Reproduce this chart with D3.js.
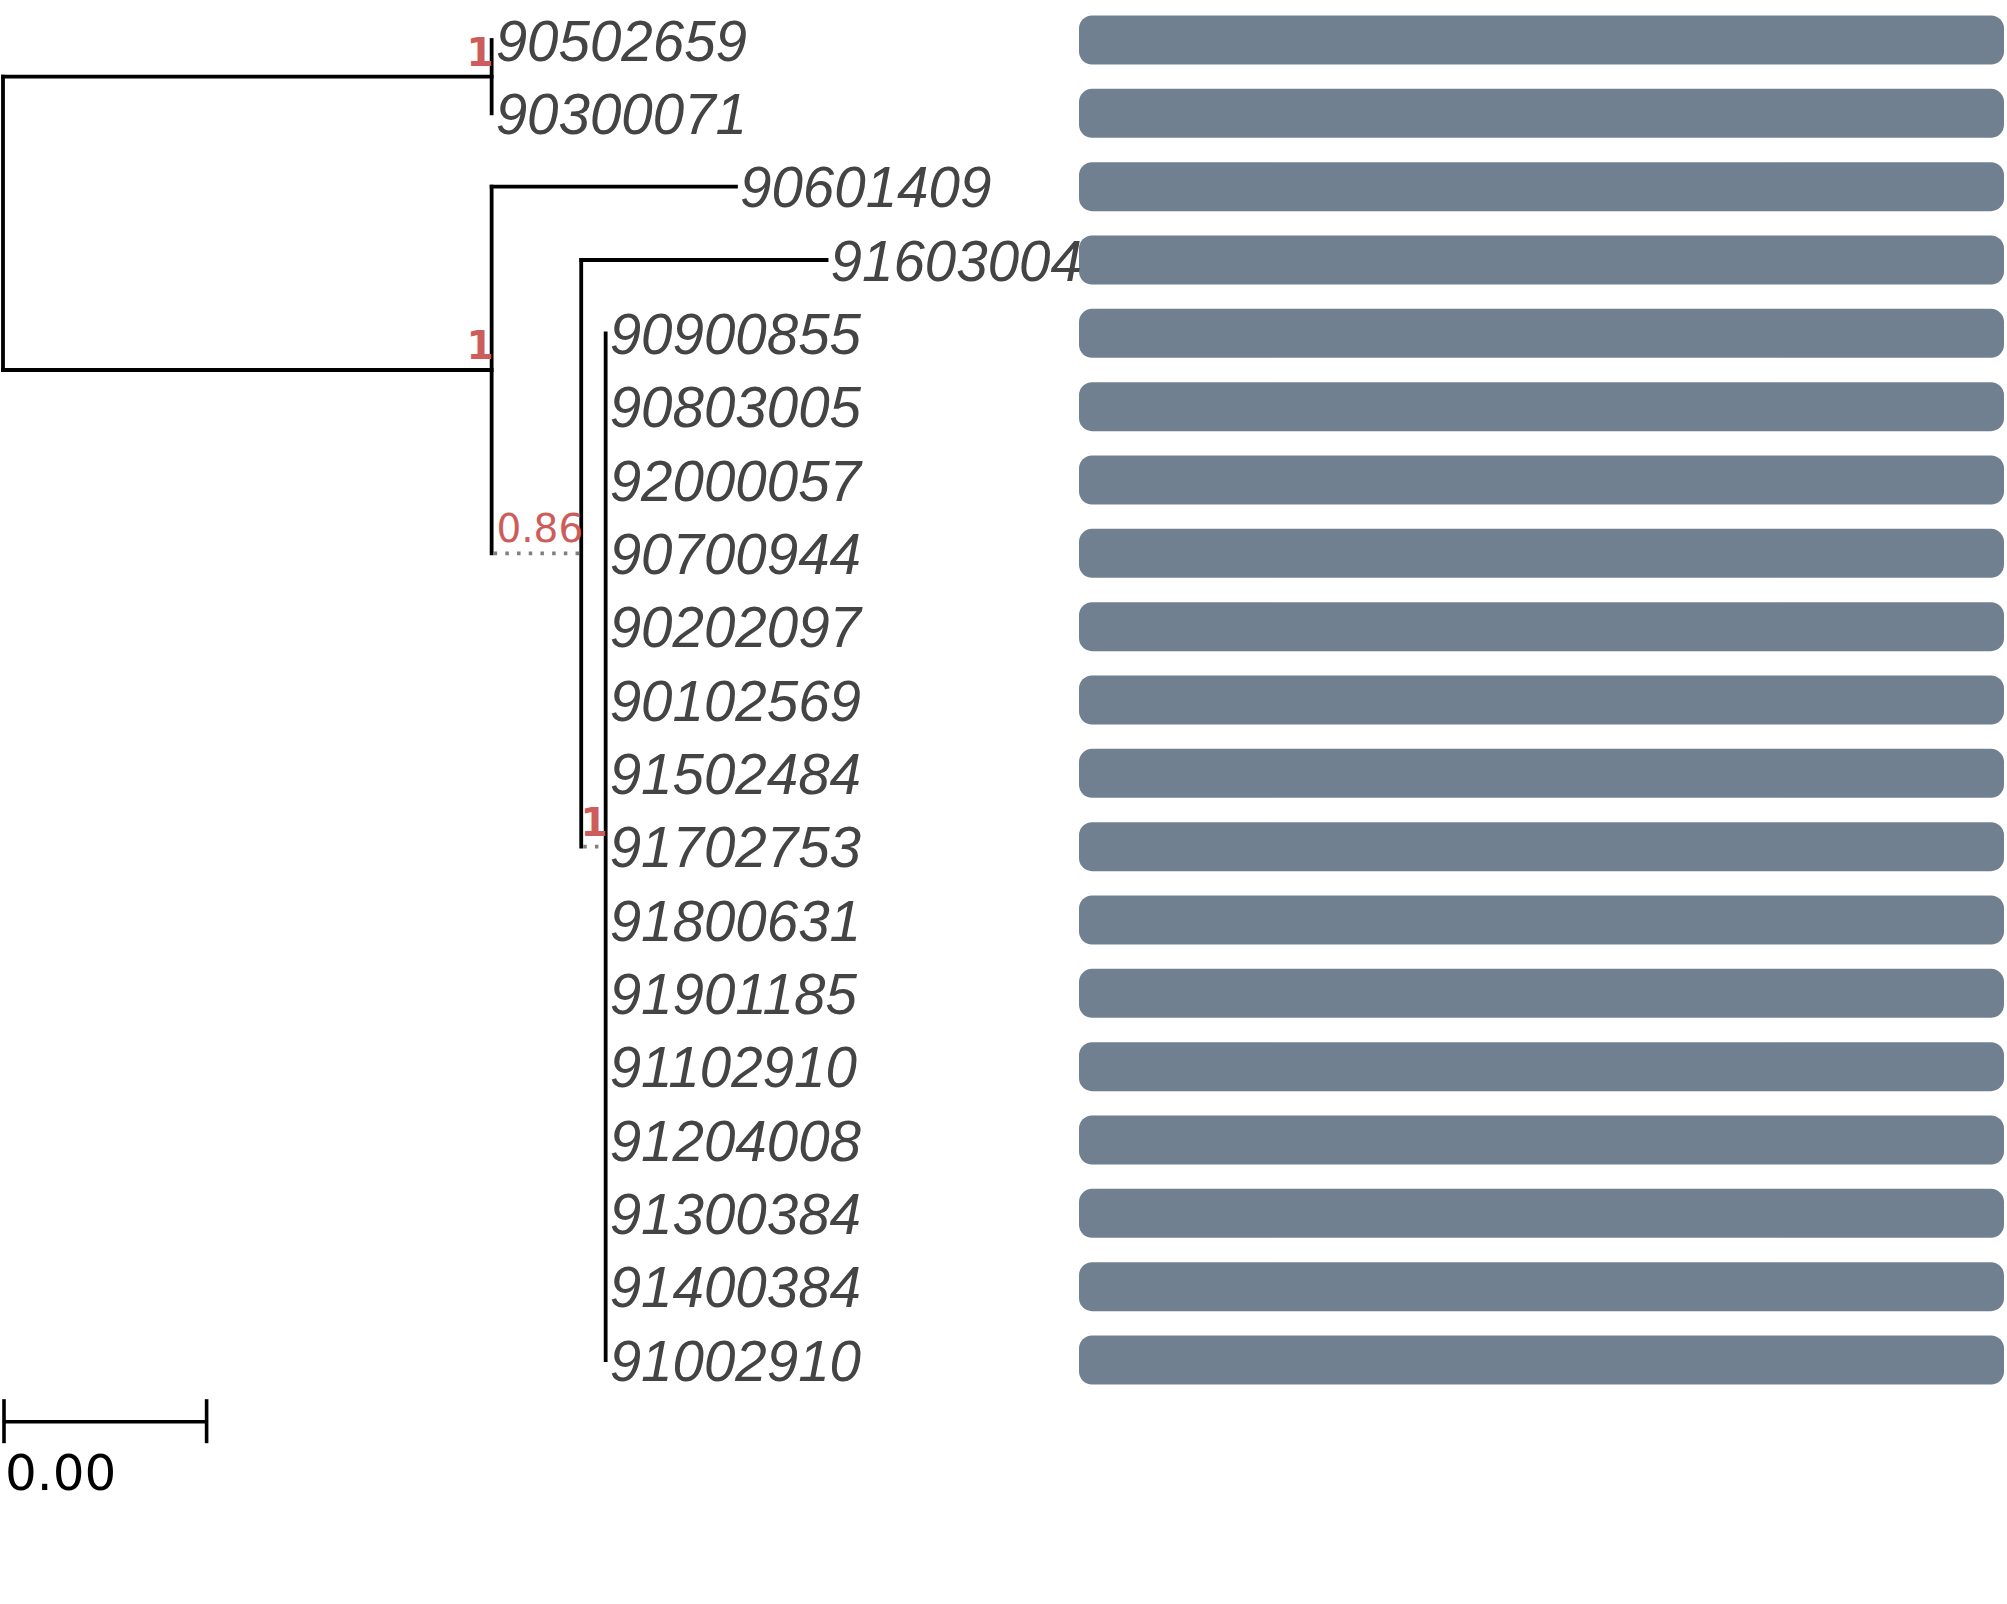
<!DOCTYPE html>
<html>
<head>
<meta charset="utf-8">
<script src="https://cdn.jsdelivr.net/npm/d3@7"></script>
<style>
  body { margin: 0; background: #fff; }
</style>
</head>
<body>
<div id="chart"></div>
<script>
// Tip labels, top to bottom
const tipLabels = [
  "90502659", "90300071", "90601409", "91603004", "90900855",
  "90803005", "92000057", "90700944", "90202097", "90102569",
  "91502484", "91702753", "91800631", "91901185", "91102910",
  "91204008", "91300384", "91400384", "91002910",
];

// Tree edges: [parent, child, branch length]
const treeEdges = [
  ["root", "A", 0.0048],
  ["root", "B", 0.0048],
  ["A", "90502659", 0],
  ["A", "90300071", 0],
  ["B", "90601409", 0.0024],
  ["B", "C", 0.00088],
  ["C", "91603004", 0.00241],
  ["C", "D", 0.00024],
  ["D", "90900855", 0],
  ["D", "90803005", 0],
  ["D", "92000057", 0],
  ["D", "90700944", 0],
  ["D", "90202097", 0],
  ["D", "90102569", 0],
  ["D", "91502484", 0],
  ["D", "91702753", 0],
  ["D", "91800631", 0],
  ["D", "91901185", 0],
  ["D", "91102910", 0],
  ["D", "91204008", 0],
  ["D", "91300384", 0],
  ["D", "91400384", 0],
  ["D", "91002910", 0],
];

// Node support values
const supportNodes = ["A", "B", "C", "D"];
const supportValues = [1, 1, 0.86, 1];

// Branches drawn dotted (by child node)
const dottedBranches = ["C", "D"];

// Bar value for every tip (same order as tipLabels)
const barValues = [1, 1, 1, 1, 1, 1, 1, 1, 1, 1, 1, 1, 1, 1, 1, 1, 1, 1, 1];

// Scale bar
const scaleBarLength = 0.002;
const scaleBarLabel = "0.00";

class PhyloTree {
  constructor(_config) {
    this.config = {
      parentElement: _config.parentElement,
      containerWidth: 2007,
      containerHeight: 1604,
      rowTop: 40,
      rowBottom: 1360,
      treeLeft: 3,
      barLeft: 1079,
      barRight: 2004,
      barHeight: 49,
      lineWidth: 3.8,
    };
    this.initVis();
  }

  initVis() {
    let vis = this;

    vis.svg = d3
      .select(vis.config.parentElement)
      .append("svg")
      .attr("width", vis.config.containerWidth)
      .attr("height", vis.config.containerHeight)
      .style("background", "#fff");

    // Branch length -> pixels
    vis.xScale = d3
      .scaleLinear()
      .domain([0, scaleBarLength])
      .range([vis.config.treeLeft, 206.6]);

    vis.yScale = d3
      .scalePoint()
      .domain(tipLabels)
      .range([vis.config.rowTop, vis.config.rowBottom]);

    vis.barScale = d3
      .scaleLinear()
      .domain([0, 1])
      .range([vis.config.barLeft, vis.config.barRight]);

    // Build hierarchy from the edge list
    const rows = [{ id: "root", parent: null, len: 0 }].concat(
      treeEdges.map((e) => ({ id: e[1], parent: e[0], len: e[2] }))
    );
    vis.root = d3
      .stratify()
      .id((d) => d.id)
      .parentId((d) => d.parent)(rows);

    // x: cumulative branch length
    vis.root.eachBefore((n) => {
      n.dist = n.parent ? n.parent.dist + n.data.len : 0;
      n.px = vis.xScale(n.dist);
    });
    // y: tips from scale, internal nodes at mean of children
    vis.root.eachAfter((n) => {
      if (!n.children) n.py = vis.yScale(n.id);
      else n.py = d3.mean(n.children, (c) => c.py);
    });

    vis.renderVis();
  }

  renderVis() {
    let vis = this;
    const nodes = vis.root.descendants();
    const inner = nodes.filter((n) => n.children);
    const leaves = vis.root.leaves();
    const lw = vis.config.lineWidth;

    // Bars on the right
    vis.svg
      .append("g")
      .selectAll("rect")
      .data(tipLabels)
      .join("rect")
      .attr("x", vis.barScale(0))
      .attr("y", (d) => vis.yScale(d) - vis.config.barHeight / 2)
      .attr("width", (d, i) => vis.barScale(barValues[i]) - vis.barScale(0))
      .attr("height", vis.config.barHeight)
      .attr("rx", 13)
      .attr("fill", "#708090");

    const branches = vis.svg.append("g");

    // Vertical connectors
    branches
      .selectAll(".vline")
      .data(inner)
      .join("line")
      .attr("class", "vline")
      .attr("x1", (d) => d.px)
      .attr("x2", (d) => d.px)
      .attr("y1", (d) => d3.min(d.children, (c) => c.py))
      .attr("y2", (d) => d3.max(d.children, (c) => c.py))
      .attr("stroke", "#000")
      .attr("stroke-width", lw)
      .attr("stroke-linecap", "square");

    // Horizontal branches
    const hEdges = nodes.filter((n) => n.parent && n.px > n.parent.px);
    branches
      .selectAll(".hline")
      .data(hEdges)
      .join("line")
      .attr("class", "hline")
      .attr("x1", (d) => d.parent.px)
      .attr("x2", (d) => d.px)
      .attr("y1", (d) => d.py)
      .attr("y2", (d) => d.py)
      .each(function (d) {
        const dotted = dottedBranches.includes(d.id);
        d3.select(this)
          .attr("stroke", dotted ? "#7f7f7f" : "#000")
          .attr("stroke-width", dotted ? 3.6 : lw)
          .attr("stroke-dasharray", dotted ? "3.5 8.2" : null)
          .attr("stroke-dashoffset", dotted ? -2 : null)
          .attr("stroke-linecap", dotted ? "butt" : "square");
      });

    // Tip labels
    vis.svg
      .append("g")
      .selectAll("text")
      .data(leaves)
      .join("text")
      .attr("x", (d) => d.px + 4)
      .attr("y", (d) => d.py + 20.5)
      .attr("font-family", "Liberation Sans, Arial, sans-serif")
      .attr("font-style", "italic")
      .attr("font-size", 56.5)
      .attr("fill", "#444")
      .text((d) => d.id);

    // Support values
    vis.svg
      .append("g")
      .selectAll("text")
      .data(supportNodes)
      .join("text")
      .attr("x", (d) => vis.root.find((n) => n.id === d).px + 2)
      .attr("y", (d) => vis.root.find((n) => n.id === d).py - 11)
      .attr("text-anchor", "end")
      .attr("font-family", "DejaVu Sans, sans-serif")
      .attr("font-size", 39)
      .attr("font-weight", (d, i) => (supportValues[i] === 1 ? "bold" : "normal"))
      .attr("fill", "#CD5C5C")
      .text((d, i) => supportValues[i]);

    // Scale bar
    const sb = vis.svg.append("g").attr("stroke", "#000").attr("stroke-width", 3.6);
    const sx0 = vis.xScale(0) + 1,
      sx1 = vis.xScale(scaleBarLength),
      sy = 1421.7;
    sb.append("line").attr("x1", sx0).attr("x2", sx1).attr("y1", sy).attr("y2", sy);
    [sx0, sx1].forEach((x) =>
      sb.append("line").attr("x1", x).attr("x2", x).attr("y1", sy - 22.5).attr("y2", sy + 21.5)
    );
    vis.svg
      .append("text")
      .attr("x", 5)
      .attr("y", 1490)
      .attr("font-family", "DejaVu Sans, sans-serif")
      .attr("font-size", 50)
      .attr("fill", "#000")
      .text(scaleBarLabel);
  }
}

new PhyloTree({ parentElement: "#chart" });
</script>
</body>
</html>
